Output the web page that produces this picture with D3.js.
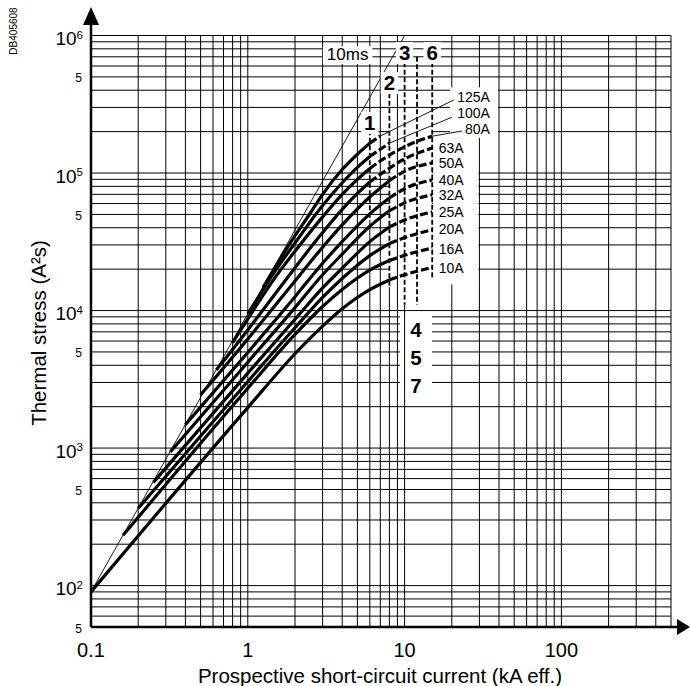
<!DOCTYPE html>
<html>
<head>
<meta charset="utf-8">
<script src="https://cdn.jsdelivr.net/npm/d3@7/dist/d3.min.js"></script>
<style>
  body { margin: 0; background: #fff; }
  svg { display: block; font-family: "Liberation Sans", Arial, sans-serif; }
</style>
</head>
<body>
<svg id="chart" width="690" height="686"></svg>
<script>
// current in kA, thermal stress in A²s
const xTickValues = [0.1, 1, 10, 100];
const xTickLabels = ["0.1", "1", "10", "100"];
const yDecadeValues = [1e2, 1e3, 1e4, 1e5, 1e6];
const yDecadeExponents = ["2", "3", "4", "5", "6"];
const yFiveValues = [50, 500, 5000, 50000, 500000];

// 10 ms line
const line10ms = [[0.1, 90], [10, 1e6]];

const ratings = ["10A", "16A", "20A", "25A", "32A", "40A", "50A", "63A", "80A", "100A", "125A"];
// solid part of each curve
const solid10 = [[0.1, 90], [1, 1970], [2, 4850], [3, 7700], [4, 10300], [6, 14200], [8, 16700]];
const solid16 = [[0.16, 232], [1, 2720], [2, 6700], [3, 10700], [4, 14250], [6, 19700], [8, 23100]];
const solid20 = [[0.2, 365], [1, 3050], [2, 7500], [3, 12450], [4, 17100], [6, 25100], [8, 30700]];
const solid25 = [[0.25, 563], [1, 3510], [2, 8640], [3, 14600], [4, 20300], [6, 31700], [8, 40500]];
const solid32 = [[0.32, 936], [1, 4210], [2, 10500], [3, 18200], [4, 25700], [6, 41000], [8, 53100]];
const solid40 = [[0.4, 1480], [1, 4960], [2, 12600], [3, 22100], [4, 31700], [6, 50500], [8, 65800]];
const solid50 = [[0.5, 2440], [1, 6220], [2, 16400], [3, 28900], [4, 42000], [6, 67000], [8, 88000]];
const solid63 = [[0.63, 3700], [1, 7230], [1.5, 13300], [2, 20500], [3, 36900], [4, 54400], [5, 71100], [6, 86100]];
const solid80 = [[0.8, 5840], [1, 8700], [1.5, 17500], [2, 27000], [3, 48000], [4, 70000], [5, 90000], [6, 108000]];
const solid100 = [[1, 9450], [1.5, 19500], [2, 31000], [3, 58000], [4, 85000], [5, 110000], [6, 132000]];
const solid125 = [[1.25, 14700], [1.6, 23500], [2, 35000], [2.5, 51000], [3, 70000], [4, 106000], [5, 137000], [6, 165000]];
// dashed continuation
const dash10 = [[8, 16700], [10, 18200], [15, 20600]];
const dash16 = [[8, 23100], [10, 25200], [15, 28500]];
const dash20 = [[8, 30700], [10, 33900], [15, 38700]];
const dash25 = [[8, 40500], [10, 45600], [15, 52100]];
const dash32 = [[8, 53100], [10, 60700], [15, 69400]];
const dash40 = [[8, 65800], [10, 76900], [15, 89000]];
const dash50 = [[8, 88000], [10, 102900], [15, 118500]];
const dash63 = [[6, 86100], [8, 108400], [10, 126700], [15, 152000]];
const dash80 = [[6, 108000], [8, 135000], [10, 155000], [12, 170000], [15, 185000]];
const dash100 = [[6, 132000], [8, 165000]];
const dash125 = [[6, 165000], [7, 186000]];

const solidCurves = [solid10, solid16, solid20, solid25, solid32, solid40, solid50, solid63, solid80, solid100, solid125];
const dashCurves = [dash10, dash16, dash20, dash25, dash32, dash40, dash50, dash63, dash80, dash100, dash125];

// rating labels: [kA, A²s] of the label's left (or right) end and centre
const ratingLabelAt = [[16.5, 20300], [16.5, 28200], [16.5, 39000], [16.5, 52000], [16.5, 69000], [16.5, 89000],
  [16.5, 118000], [16.5, 152000], [35, 209000], [35, 273000], [35, 357000]];
const ratingLabelEnd = [false, false, false, false, false, false, false, false, true, true, true];
// leader lines for the three top labels: from label to curve end
const leaderFrom = [[23.2, 202000], [20.1, 255000], [20.6, 340000]];
const leaderTo = [[14.1, 183000], [8, 165000], [7, 186000]];

// breaking capacity markers
const breakNames = ["1", "2", "3", "6"];
const breakCurrents = [6, 8, 10, 15];
const breakLabelValues = [233000, 455000, 752000, 752000];
const breakTops = [205000, 380000, 640000, 640000];
const breakBottoms = [45000, 14800, 11000, 17500];
const lowLineCurrent = 12;
const lowLineTop = 700000;
const lowLineBottom = 11000;
const lowNames = ["4", "5", "7"];
const lowValues = [7280, 4550, 2870];

// vertical grid lines that are broken where a dashed line runs over them
const gridGapCurrents = [6, 8, 10];
const gridGapLow = [45000, 14800, 11000];
const gridGapHigh = [260000, 1e6, 1e6];

let svg = d3.select("#chart");
let x = d3.scaleLog().domain([0.1, 500]).range([91, 671]);
let y = d3.scaleLog().domain([50, 1e6]).range([627, 35.5]);

// grid values
let xGrid = [];
[0.1, 1, 10, 100].forEach(function(d) {
  for (let k = 1; k <= 9; k++) { if (d * k <= 500.0001) xGrid.push(d * k); }
});
let yGrid = [];
[10, 100, 1000, 10000, 100000].forEach(function(d) {
  for (let k = 1; k <= 9; k++) { if (d * k >= 49.99) yGrid.push(d * k); }
});
yGrid.push(1e6);

function gapIndex(d) {
  return gridGapCurrents.findIndex(c => Math.abs(c - d) < 0.01);
}

let grid = svg.append("g").attr("stroke", "#000").attr("stroke-width", 1);
grid.selectAll("line.v").data(xGrid).enter().append("line")
  .attr("x1", d => x(d)).attr("x2", d => x(d))
  .attr("y1", y(50))
  .attr("y2", d => gapIndex(d) >= 0 ? y(gridGapLow[gapIndex(d)]) : y(1e6));
grid.selectAll("line.v2").data(xGrid.filter(d => gapIndex(d) >= 0 && gridGapHigh[gapIndex(d)] < 1e6))
  .enter().append("line")
  .attr("x1", d => x(d)).attr("x2", d => x(d))
  .attr("y1", d => y(gridGapHigh[gapIndex(d)])).attr("y2", y(1e6));
grid.selectAll("line.h").data(yGrid).enter().append("line")
  .attr("y1", d => y(d)).attr("y2", d => y(d))
  .attr("x1", x(0.1))
  .attr("x2", d => (d > 14000 && d < 230000) ? x(8) : x(500));
grid.selectAll("line.h2").data(yGrid.filter(d => d > 14000 && d < 230000)).enter().append("line")
  .attr("y1", d => y(d)).attr("y2", d => y(d))
  .attr("x1", x(15)).attr("x2", x(500));

// white areas behind label columns
svg.append("rect").attr("x", x(15) + 1).attr("y", y(1.8e5)).attr("width", x(30) - x(15) - 2)
  .attr("height", y(1.55e4) - y(1.8e5)).attr("fill", "#fff");
svg.append("rect").attr("x", 450).attr("y", y(4.2e5)).attr("width", x(40) - 450 - 1)
  .attr("height", y(1.8e5) - y(4.2e5)).attr("fill", "#fff");
// white box behind 4, 5, 7
svg.append("rect").attr("x", 400).attr("y", y(1e4) + 2).attr("width", 32)
  .attr("height", y(2300) - y(1e4) - 2).attr("fill", "#fff");
svg.append("line").attr("x1", x(10)).attr("x2", x(10)).attr("y1", y(1e4)).attr("y2", y(2300))
  .attr("stroke", "#000").attr("stroke-width", 1);

// axes with arrows
svg.append("line").attr("x1", x(0.1)).attr("x2", x(0.1)).attr("y1", y(50)).attr("y2", 24)
  .attr("stroke", "#000").attr("stroke-width", 2.5);
svg.append("path").attr("d", "M" + (x(0.1) - 8) + ",25 L" + x(0.1) + ",7 L" + (x(0.1) + 8) + ",25 Z");
svg.append("line").attr("x1", x(0.1)).attr("x2", 678).attr("y1", y(50)).attr("y2", y(50))
  .attr("stroke", "#000").attr("stroke-width", 2.5);
svg.append("path").attr("d", "M677," + (y(50) - 8) + " L690," + y(50) + " L677," + (y(50) + 8) + " Z");

// tick labels
svg.selectAll("text.xt").data(xTickValues).enter().append("text")
  .attr("x", d => x(d)).attr("y", y(50) + 30)
  .attr("text-anchor", "middle").attr("font-size", 20)
  .text((d, i) => xTickLabels[i]);

let yt = svg.selectAll("text.yt").data(yDecadeValues).enter().append("text")
  .attr("x", x(0.1) - 8).attr("y", d => y(d) + 9.5)
  .attr("text-anchor", "end").attr("font-size", 19);
yt.append("tspan").text("10");
yt.append("tspan").attr("font-size", 11.5).attr("dy", -6.5).text((d, i) => yDecadeExponents[i]);

svg.selectAll("text.y5").data(yFiveValues).enter().append("text")
  .attr("x", x(0.1) - 9).attr("y", d => y(d) + 5.5)
  .attr("text-anchor", "end").attr("font-size", 12).text("5");

// axis titles
svg.append("text").attr("x", 380).attr("y", 683).attr("text-anchor", "middle")
  .attr("font-size", 20.5).text("Prospective short-circuit current (kA eff.)");
svg.append("text").attr("transform", "translate(46,333) rotate(-90)").attr("text-anchor", "middle")
  .attr("font-size", 20.5).text("Thermal stress (A²s)");
svg.append("text").attr("transform", "translate(17,31) rotate(-90)").attr("text-anchor", "middle")
  .attr("font-size", 10).text("DB405608");

let line = d3.line().x(d => x(d[0])).y(d => y(d[1])).curve(d3.curveMonotoneX);

// break capacity dashed lines
svg.selectAll("line.brk").data(breakCurrents).enter().append("line")
  .attr("x1", d => x(d)).attr("x2", d => x(d))
  .attr("y1", (d, i) => y(breakTops[i])).attr("y2", (d, i) => y(breakBottoms[i]))
  .attr("stroke", "#000").attr("stroke-width", 1.8).attr("stroke-dasharray", "5,2.5");
svg.append("line").attr("x1", x(lowLineCurrent)).attr("x2", x(lowLineCurrent))
  .attr("y1", y(lowLineTop)).attr("y2", y(lowLineBottom))
  .attr("stroke", "#000").attr("stroke-width", 1.8).attr("stroke-dasharray", "5,2.5");

// 10 ms line
svg.append("path").datum(line10ms).attr("d", d3.line().x(d => x(d[0])).y(d => y(d[1])))
  .attr("fill", "none").attr("stroke", "#000").attr("stroke-width", 0.9);

// leaders
svg.selectAll("line.lead").data(leaderFrom).enter().append("line")
  .attr("x1", d => x(d[0])).attr("y1", d => y(d[1]))
  .attr("x2", (d, i) => x(leaderTo[i][0])).attr("y2", (d, i) => y(leaderTo[i][1]))
  .attr("stroke", "#000").attr("stroke-width", 0.9);

// curves
svg.selectAll("path.solid").data(solidCurves).enter().append("path")
  .attr("d", line).attr("fill", "none").attr("stroke", "#000").attr("stroke-width", 3.2);
svg.selectAll("path.dash").data(dashCurves).enter().append("path")
  .attr("d", line).attr("fill", "none").attr("stroke", "#000").attr("stroke-width", 3.2)
  .attr("stroke-dasharray", "8,3");

// boxed labels
function boxedText(tx, ty, str, size, weight, anchor, pad) {
  let g = svg.append("g");
  let t = g.append("text").attr("x", tx).attr("y", ty).attr("font-size", size)
    .attr("font-weight", weight).attr("text-anchor", anchor).text(str);
  let b = t.node().getBBox();
  g.insert("rect", "text").attr("x", b.x - pad).attr("y", b.y + 1).attr("width", b.width + 2 * pad)
    .attr("height", b.height - 1).attr("fill", "#fff");
  return g;
}

ratings.forEach(function(r, i) {
  let p = ratingLabelAt[i];
  boxedText(x(p[0]), y(p[1]) + 5, r, 14, "normal", ratingLabelEnd[i] ? "end" : "start", 1);
});

boxedText(x(4.33), y(7.33e5) + 6, "10ms", 17, "normal", "middle", 4);
breakNames.forEach(function(n, i) {
  boxedText(x(breakCurrents[i]), y(breakLabelValues[i]) + 7.5, n, 20.5, "bold", "middle", 3);
});
lowNames.forEach(function(n, i) {
  boxedText(x(11.8), y(lowValues[i]) + 7.5, n, 20.5, "bold", "middle", 3);
});
</script>
</body>
</html>
